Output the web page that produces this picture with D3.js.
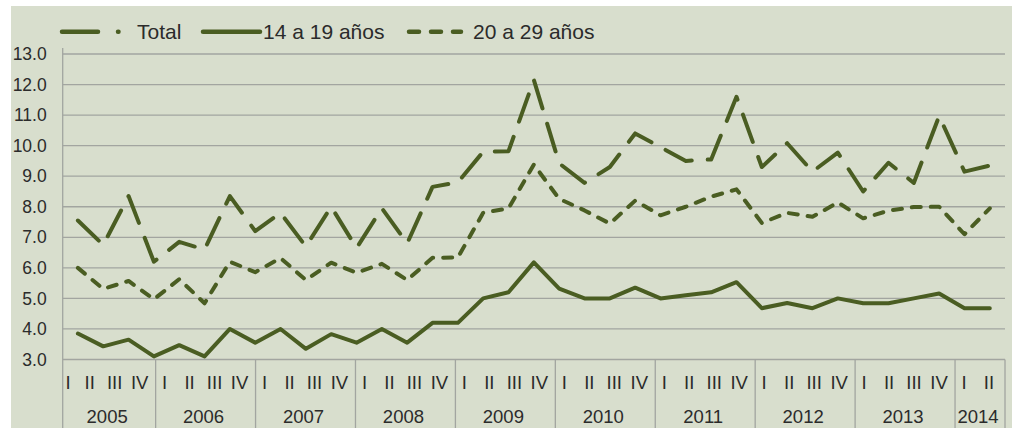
<!DOCTYPE html>
<html>
<head>
<meta charset="utf-8">
<script src="https://cdn.jsdelivr.net/npm/d3@7"></script>
<style>
	body { margin: 0; background: #fff; }
	text { font-family: 'Liberation Sans', Arial, sans-serif; fill: #2b2b2b; }
</style>
</head>
<body>
<script>
// data
var years = ['2005', '2006', '2007', '2008', '2009', '2010', '2011', '2012', '2013', '2014'];
var quarters_per_year = [4, 4, 4, 4, 4, 4, 4, 4, 4, 2];
var quarter_names = ['I', 'II', 'III', 'IV'];
var y_ticks = [3, 4, 5, 6, 7, 8, 9, 10, 11, 12, 13];

var total = [7.55, 6.75, 8.35, 6.2, 6.85, 6.6, 8.35, 7.2, 7.8, 6.7, 8.0, 6.65, 7.95, 6.8, 8.65, 8.8,
	9.8, 9.82, 12.15, 9.42, 8.78, 9.3, 10.4, 9.95, 9.5, 9.55, 11.6, 9.3, 10.08, 9.15, 9.77, 8.5,
	9.44, 8.78, 10.97, 9.15, 9.35];
var edad_14_19 = [3.85, 3.43, 3.65, 3.1, 3.47, 3.1, 4.0, 3.55, 4.0, 3.35, 3.83, 3.55, 4.0, 3.55, 4.2, 4.2,
	5.0, 5.2, 6.18, 5.32, 5.0, 5.0, 5.35, 5.0, 5.1, 5.2, 5.53, 4.68, 4.85, 4.68, 5.0, 4.84,
	4.84, 5.0, 5.16, 4.68, 4.68];
var edad_20_29 = [6.0, 5.31, 5.57, 4.97, 5.63, 4.84, 6.2, 5.86, 6.32, 5.6, 6.17, 5.84, 6.13, 5.6, 6.33, 6.34,
	7.8, 7.95, 9.38, 8.26, 7.88, 7.45, 8.2, 7.72, 8.0, 8.33, 8.57, 7.47, 7.8, 7.67, 8.14, 7.62,
	7.87, 7.99, 8.0, 7.1, 7.95];

var series = [
	{ name: 'Total', values: total, dash: '29,16' },
	{ name: '14 a 19 años', values: edad_14_19, dash: null },
	{ name: '20 a 29 años', values: edad_20_29, dash: '9,10' },
];

// chart
var W = 1014, H = 428;
var plot = { left: 62.7, right: 1005, top: 54, bottom: 359.5 };
var line_color = '#4a5d22';
var grid_color = '#a2a5a0';

var svg = d3.select('body')
	.append('svg')
	.attr('width', W)
	.attr('height', H);

svg.append('rect')
	.attr('x', 11)
	.attr('y', 6)
	.attr('width', 1001)
	.attr('height', H)
	.attr('fill', '#d8decd');

var y = d3.scaleLinear().domain([3, 13]).range([plot.bottom, plot.top]);

// one point for each value
var x = d3.scalePoint()
	.domain(d3.range(total.length))
	.range([plot.left, plot.right])
	.padding(0.6);

// quarter cells of the table under the plot
var quarter_keys = [];
years.forEach(function (yr, i) {
	for (var q = 0; q < quarters_per_year[i]; q++) quarter_keys.push(yr + '-' + q);
});
var xq = d3.scaleBand().domain(quarter_keys).range([55.7, plot.right]);

// grid
svg.append('g')
	.selectAll('line')
	.data(y_ticks)
	.enter()
	.append('line')
	.attr('x1', plot.left)
	.attr('x2', plot.right)
	.attr('y1', function (d) { return y(d); })
	.attr('y2', function (d) { return y(d); })
	.attr('stroke', grid_color)
	.attr('stroke-width', 1.3);

var y_axis = d3.axisLeft(y)
	.tickValues(y_ticks)
	.tickSize(0)
	.tickPadding(16)
	.tickFormat(d3.format('.1f'));

var gy = svg.append('g')
	.attr('transform', 'translate(' + plot.left + ',0)')
	.call(y_axis);
gy.select('.domain').remove();
gy.selectAll('text')
	.attr('font-size', 17.5)
	.attr('font-family', null)
	.attr('fill', '#2b2b2b');

svg.append('line')
	.attr('x1', plot.left).attr('x2', plot.left)
	.attr('y1', 48).attr('y2', H)
	.attr('stroke', grid_color)
	.attr('stroke-width', 1.3);

// year separators and labels
var year_cells = years.map(function (yr, i) {
	var x0 = Math.max(xq(yr + '-0'), plot.left);
	var x1 = xq(yr + '-' + (quarters_per_year[i] - 1)) + xq.bandwidth();
	return { year: yr, x0: x0, x1: Math.min(x1, plot.right) };
});

svg.append('g')
	.selectAll('line')
	.data(year_cells)
	.enter()
	.append('line')
	.attr('x1', function (d) { return d.x1; })
	.attr('x2', function (d) { return d.x1; })
	.attr('y1', plot.bottom)
	.attr('y2', H)
	.attr('stroke', grid_color)
	.attr('stroke-width', 1.3);

svg.append('g')
	.selectAll('text')
	.data(year_cells)
	.enter()
	.append('text')
	.attr('x', function (d) { return (d.x0 + d.x1) / 2 - 2; })
	.attr('y', 422.5)
	.attr('text-anchor', 'middle')
	.attr('font-size', 18.5)
	.text(function (d) { return d.year; });

svg.append('g')
	.selectAll('text')
	.data(quarter_keys)
	.enter()
	.append('text')
	.attr('x', function (d) {
		var x0 = Math.max(xq(d), plot.left);
		return (x0 + xq(d) + xq.bandwidth()) / 2 - 3.5;
	})
	.attr('y', 388.5)
	.attr('text-anchor', 'middle')
	.attr('font-size', 18.5)
	.text(function (d) { return quarter_names[+d.split('-')[1]]; });

// lines
var line = d3.line()
	.x(function (d, i) { return x(i); })
	.y(function (d) { return y(d); });

series.forEach(function (s) {
	svg.append('path')
		.datum(s.values)
		.attr('d', line)
		.attr('fill', 'none')
		.attr('stroke', line_color)
		.attr('stroke-width', 4)
		.attr('stroke-linecap', 'round')
		.attr('stroke-linejoin', 'round')
		.attr('stroke-dasharray', s.dash);
});

// legend
var legend_items = [
	{ x1: 62, x2: 119, dash: '36,20,0.5,100', tx: 137 },
	{ x1: 203, x2: 260, dash: null, tx: 263 },
	{ x1: 409, x2: 461, dash: '10,12', tx: 473 },
];
var legend = svg.append('g').attr('transform', 'translate(0,31.7)');
legend_items.forEach(function (d, i) {
	legend.append('line')
		.attr('x1', d.x1)
		.attr('x2', d.x2)
		.attr('stroke', line_color)
		.attr('stroke-width', 4.5)
		.attr('stroke-linecap', 'round')
		.attr('stroke-dasharray', d.dash);
	legend.append('text')
		.attr('x', d.tx)
		.attr('y', 7.5)
		.attr('font-size', 21)
		.text(series[i].name);
});
</script>
</body>
</html>
